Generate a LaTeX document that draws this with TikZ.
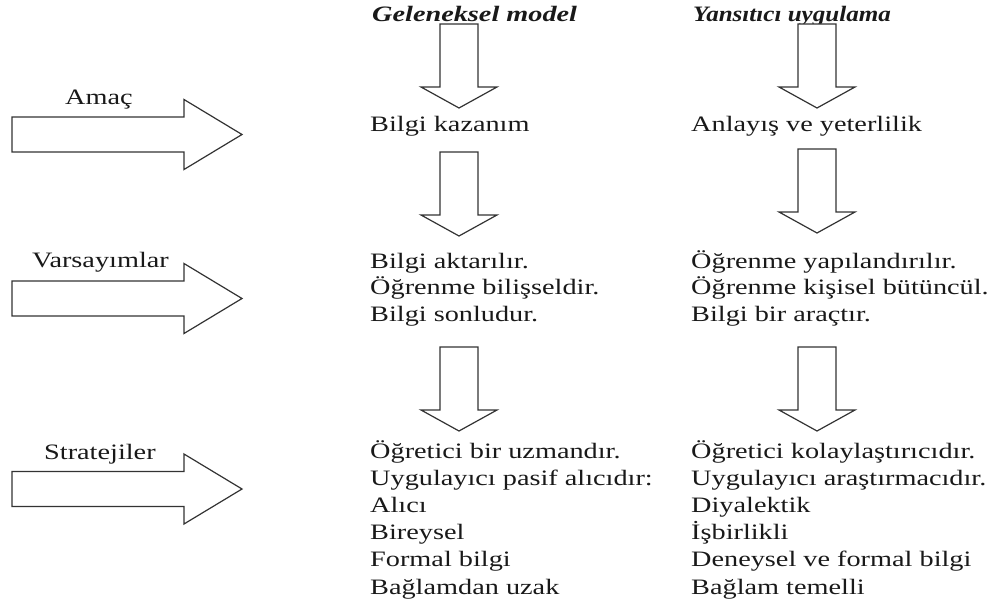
\documentclass[tikz,border=0pt]{standalone}
\usepackage{fontspec}
\setmainfont[FakeStretch=1.285]{Liberation Serif}
\newfontfamily\hdrnarrow[FakeStretch=1.14]{Liberation Serif}
\begin{document}
\begin{tikzpicture}[x=1pt,y=-1pt,
  arr/.style={draw=black!80, line width=1.2pt, line join=miter, fill=white},
  txt/.style={anchor=base west, inner sep=0pt, font=\fontsize{22}{26}\selectfont, text=black!90},
  hdr/.style={txt, font=\fontsize{22}{26}\selectfont\bfseries\itshape},
  downarr/.pic={\path[arr] (-19,0) -- (19,0) -- (19,63) -- (38,63) -- (0,84) -- (-38,63) -- (-19,63) -- cycle;},
  rightarr/.pic={\path[arr] (0,-17.5) -- (172,-17.5) -- (172,-35) -- (230,0) -- (172,35) -- (172,17.5) -- (0,17.5) -- cycle;}
]
\useasboundingbox (0,0) rectangle (995,604);
% headers
\node[hdr] (hg) at (372,22) {Geleneksel model};
\node[hdr, font=\fontsize{22}{26}\hdrnarrow\bfseries\itshape] (hy) at (693,22) {Yansıtıcı uygulama};
% row labels
\node[txt] (amac) at (65,105) {Amaç};
\node[txt] (vars) at (32,267) {Varsayımlar};
\node[txt] (strat) at (44,459) {Stratejiler};
% horizontal arrows
\pic at (12,134.5) {rightarr};
\pic at (12,298.5) {rightarr};
\pic at (12,489) {rightarr};
% vertical arrows left
\pic at (459,24) {downarr};
\pic at (459,152) {downarr};
\pic at (459,347) {downarr};
% vertical arrows right
\pic at (817,24) {downarr};
\pic at (817,149) {downarr};
\pic at (817,347) {downarr};
% row 1
\node[txt] (g1) at (370,132) {Bilgi kazanım};
\node[txt] (y1) at (691,132) {Anlayış ve yeterlilik};
% row 2
\node[txt] (g2a) at (370,268) {Bilgi aktarılır.};
\node[txt] (g2b) at (370,294.5) {Öğrenme bilişseldir.};
\node[txt] (g2c) at (370,321) {Bilgi sonludur.};
\node[txt] (y2a) at (691,268) {Öğrenme yapılandırılır.};
\node[txt] (y2b) at (691,294.5) {Öğrenme kişisel bütüncül.};
\node[txt] (y2c) at (691,321) {Bilgi bir araçtır.};
% row 3
\node[txt] (g3a) at (370,458) {Öğretici bir uzmandır.};
\node[txt] (g3b) at (370,485.2) {Uygulayıcı pasif alıcıdır:};
\node[txt] (g3c) at (370,512.4) {Alıcı};
\node[txt] (g3d) at (370,539.6) {Bireysel};
\node[txt] (g3e) at (370,566.8) {Formal bilgi};
\node[txt] (g3f) at (370,594) {Bağlamdan uzak};
\node[txt] (y3a) at (691,458) {Öğretici kolaylaştırıcıdır.};
\node[txt] (y3b) at (691,485.2) {Uygulayıcı araştırmacıdır.};
\node[txt] (y3c) at (691,512.4) {Diyalektik};
\node[txt] (y3d) at (691,539.6) {İşbirlikli};
\node[txt] (y3e) at (691,566.8) {Deneysel ve formal bilgi};
\node[txt] (y3f) at (691,594) {Bağlam temelli};
\end{tikzpicture}
\end{document}
